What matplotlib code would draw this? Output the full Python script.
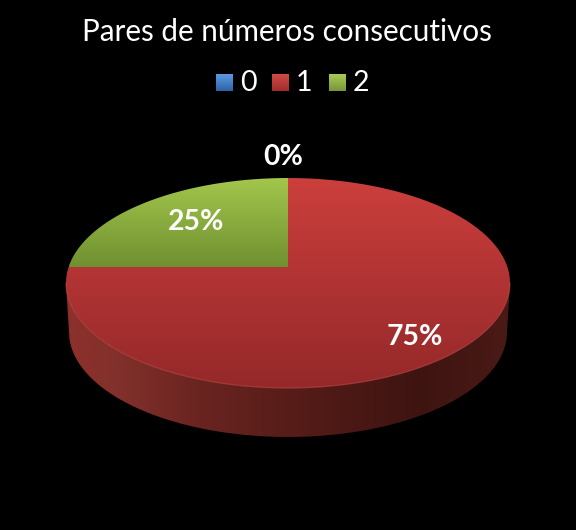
"""Pie chart in 3D look: pares de numeros consecutivos."""
import matplotlib

matplotlib.use("Agg")
import matplotlib.pyplot as plt
import numpy as np
from matplotlib.patches import PathPatch, Rectangle
from matplotlib.path import Path

plt.rcParams["font.family"] = ["Lato", "DejaVu Sans"]

TITLE = "Pares de números consecutivos"
categories = ["0", "1", "2"]
shares = [0, 75, 25]
labels = ["0%", "75%", "25%"]
top_colors = [("#4f8fd8", "#2f62a8"), ("#cb3f3c", "#95282a"), ("#a3c64c", "#6f9030")]
legend_colors = [("#5a9be0", "#2f62a8"), ("#d24a47", "#a02c2c"), ("#aacb55", "#76963a")]

# geometry of the drawn disc, in picture pixels
CX, CY, RX, RY = 288, 283, 222, 105
APEX_Y = 267
DEPTH = 49
BOTTOM_RX = 219


def hex_rgb(c):
    return np.array(matplotlib.colors.to_rgb(c))


def gradient(ax, clip, x0, x1, y0, y1, stops, vertical=True):
    """Paint a gradient image clipped to a patch. stops = list of (pos, colour)."""
    pos = np.linspace(0, 1, 256)
    xs = [s[0] for s in stops]
    cols = np.array([hex_rgb(s[1]) for s in stops])
    ramp = np.stack([np.interp(pos, xs, cols[:, i]) for i in range(3)], axis=1)
    img = ramp[:, None, :] if vertical else ramp[None, :, :]
    im = ax.imshow(img, extent=(x0, x1, y1, y0), aspect="auto", interpolation="bilinear", zorder=2)
    ax.add_patch(clip)
    im.set_clip_path(clip)


def rim_point(theta):
    """Ellipse parameter where the ray from the apex, theta clockwise from top, leaves the rim."""
    dx, dy = RX * np.sin(theta), -RY * np.cos(theta)
    ox, oy = 0.0, (APEX_Y - CY)
    a = (dx / RX) ** 2 + (dy / RY) ** 2
    b = 2 * (ox * dx / RX ** 2 + oy * dy / RY ** 2)
    c = (ox / RX) ** 2 + (oy / RY) ** 2 - 1
    s = (-b + np.sqrt(b * b - 4 * a * c)) / (2 * a)
    return np.arctan2((oy + s * dy) / RY, (ox + s * dx) / RX)


def wedge_path(start, end):
    """Path of a top-surface slice between two shares (fractions of the whole)."""
    t0 = rim_point(start * 2 * np.pi)
    t1 = rim_point(end * 2 * np.pi)
    # the screen angle runs clockwise with y pointing down
    if t1 <= t0:
        t1 += 2 * np.pi
    t = np.linspace(t0, t1, 200)
    verts = [(CX, APEX_Y)] + list(zip(CX + RX * np.cos(t), CY + RY * np.sin(t))) + [(CX, APEX_Y)]
    return Path(verts)


fig = plt.figure(figsize=(5.76, 5.30), dpi=100, facecolor="black")
ax = fig.add_axes([0, 0, 1, 1])
ax.axis("off")

# side wall
t = np.linspace(0, np.pi, 200)
upper = np.column_stack([CX + RX * np.cos(t), CY + RY * np.sin(t)])
lower = np.column_stack([CX + BOTTOM_RX * np.cos(t[::-1]), CY + DEPTH + RY * np.sin(t[::-1])])
side = PathPatch(Path(np.vstack([upper, lower, upper[:1]])), fc="none", ec="none")
gradient(ax, side, CX - RX, CX + RX, CY, CY + RY + DEPTH,
         [(0, "#8e302c"), (0.12, "#81302b"), (0.3, "#6a2420"), (0.55, "#531b17"),
          (0.8, "#3e1411"), (1, "#4a1a16")], vertical=False)

# top surface slices
cum = 0.0
total = sum(shares)
for share, (c0, c1) in zip(shares, top_colors):
    frac = share / total
    if frac > 0:
        patch = PathPatch(wedge_path(cum, cum + frac), fc="none", ec="none")
        ext = patch.get_path().get_extents()
        gradient(ax, patch, ext.x0, ext.x1, ext.y0, ext.y1, [(0, c0), (1, c1)])
    cum += frac

# light rim along the front of the disc
ax.plot(upper[:, 0], upper[:, 1], color="#c9504a", lw=0.8, alpha=0.6, zorder=3)

# title and legend
ax.text(287, 32, TITLE, color="white", fontsize=21.3, ha="center", va="center", zorder=5)
legend_x = [216, 272, 329]
for cat, lx, (c0, c1) in zip(categories, legend_x, legend_colors):
    box = Rectangle((lx, 74), 17, 17, fc="none", ec="none")
    gradient(ax, box, lx, lx + 17, 74, 91, [(0, c0), (1, c1)])
    ax.text(lx + 32, 83, cat, color="white", fontsize=20.5, ha="center", va="center", zorder=5)

# percentage labels
label_xy = [(283, 157), (415, 337), (196, 222)]
for text, (lx, ly) in zip(labels, label_xy):
    ax.text(lx, ly, text, color="white", fontsize=20.4, fontweight="bold",
            ha="center", va="center", zorder=5)

ax.set_xlim(0, 576)
ax.set_ylim(530, 0)
fig.savefig("out.png", dpi=100, facecolor="black")
